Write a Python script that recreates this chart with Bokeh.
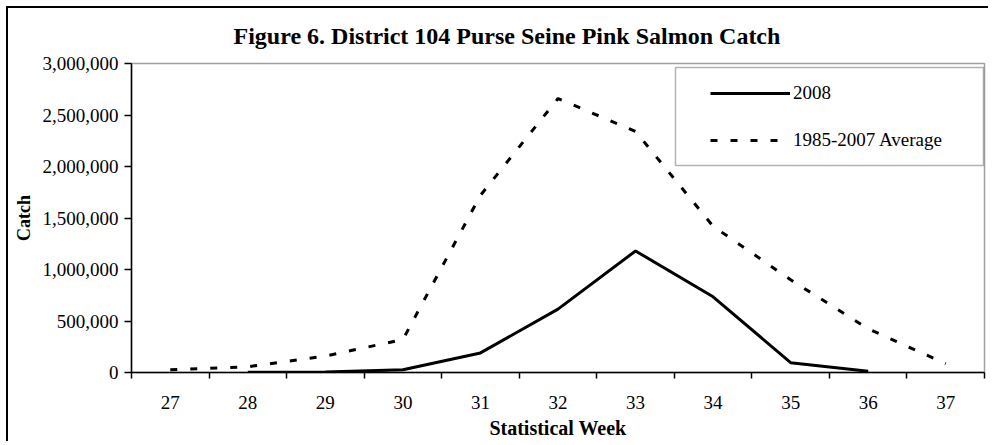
from bokeh.plotting import figure
from bokeh.models import (Range1d, FixedTicker, NumeralTickFormatter, Legend, LegendItem,
                          BoxAnnotation, ColumnDataSource)
from bokeh.embed import file_html
from bokeh.resources import INLINE

# ---- data ----
weeks = [27, 28, 29, 30, 31, 32, 33, 34, 35, 36, 37]
catch_2008 = [float("nan"), 2000, 4000, 26000, 190000, 615000, 1180000, 735000, 95000, 12000, float("nan")]
catch_avg = [26000, 56000, 160000, 320000, 1720000, 2660000, 2340000, 1420000, 900000, 425000, 85000]
y_ticks = [0, 500000, 1000000, 1500000, 2000000, 2500000, 3000000]
series_labels = ["2008", "1985-2007 Average"]
title_text = "Figure 6.  District 104 Purse Seine Pink Salmon Catch"

FONT = "Liberation Serif"

x0, x1 = weeks[0] - 0.5, weeks[-1] + 0.5
p = figure(width=982, height=435,
           x_range=Range1d(x0, x1),
           y_range=Range1d(y_ticks[0], y_ticks[-1]),
           output_backend="svg", toolbar_location=None,
           min_border_left=123, min_border_right=6, min_border_top=55, min_border_bottom=71)

p.styles = {"margin-left": "8px", "margin-top": "8px", "box-shadow": "-2px -2px 0 0 black"}

p.xgrid.visible = False
p.ygrid.visible = False
p.outline_line_color = "#a0a0a0"
p.outline_line_width = 1.5
p.background_fill_color = "white"
p.border_fill_color = "white"

# title
p.title.text = title_text
p.title.text_font = FONT
p.title.text_font_size = "24px"
p.title.text_font_style = "bold"
p.title.text_color = "black"
p.title.align = "left"
p.title.vertical_align = "top"
p.title.offset = 102
p.title.standoff = 25

# x axis
xa = p.xaxis[0]
xa.ticker = FixedTicker(ticks=weeks, minor_ticks=[w - 0.5 for w in weeks] + [weeks[-1] + 0.5])
xa.major_tick_line_color = None
xa.minor_tick_line_color = "black"
xa.minor_tick_line_width = 1.5
xa.minor_tick_in = 0
xa.minor_tick_out = 6
xa.axis_line_color = "black"
xa.axis_line_width = 1.5
xa.major_label_text_font = FONT
xa.major_label_text_font_size = "19px"
xa.major_label_text_color = "black"
xa.major_label_standoff = 17
xa.axis_label = "Statistical Week"
xa.axis_label_text_font = FONT
xa.axis_label_text_font_size = "20px"
xa.axis_label_text_font_style = "bold"
xa.axis_label_text_color = "black"
xa.axis_label_standoff = 5

# y axis
ya = p.yaxis[0]
ya.ticker = FixedTicker(ticks=y_ticks)
ya.formatter = NumeralTickFormatter(format="0,0")
ya.major_tick_line_color = "black"
ya.major_tick_line_width = 1.5
ya.major_tick_in = 0
ya.major_tick_out = 7
ya.minor_tick_line_color = None
ya.axis_line_color = "black"
ya.axis_line_width = 1.5
ya.major_label_text_font = FONT
ya.major_label_text_font_size = "19px"
ya.major_label_text_color = "black"
ya.major_label_standoff = 6
ya.axis_label = "Catch"
ya.axis_label_text_font = FONT
ya.axis_label_text_font_size = "18px"
ya.axis_label_text_font_style = "bold"
ya.axis_label_text_color = "black"
ya.axis_label_standoff = 6

src = ColumnDataSource(dict(week=weeks, c2008=catch_2008, cavg=catch_avg))
r_avg = p.line("week", "cavg", source=src, line_color="black", line_width=3, line_dash="7 13")
r_2008 = p.line("week", "c2008", source=src, line_color="black", line_width=3)

# legend frame
box = BoxAnnotation(left=33.515, right=37.487, bottom=2009709, top=2961165,
                    fill_color="white", fill_alpha=1.0, line_color="black", line_width=1.5)
p.add_layout(box)

legend = Legend(items=[LegendItem(label=series_labels[0], renderers=[r_2008]),
                       LegendItem(label=series_labels[1], renderers=[r_avg])],
                location=(579, 221), glyph_width=80, glyph_height=22, label_height=22,
                label_standoff=3, spacing=25, padding=0, margin=0,
                border_line_alpha=0, background_fill_alpha=0,
                label_text_font=FONT, label_text_font_size="19px", label_text_color="black")
p.add_layout(legend)

open("out.html", "w").write(file_html(p, INLINE))
